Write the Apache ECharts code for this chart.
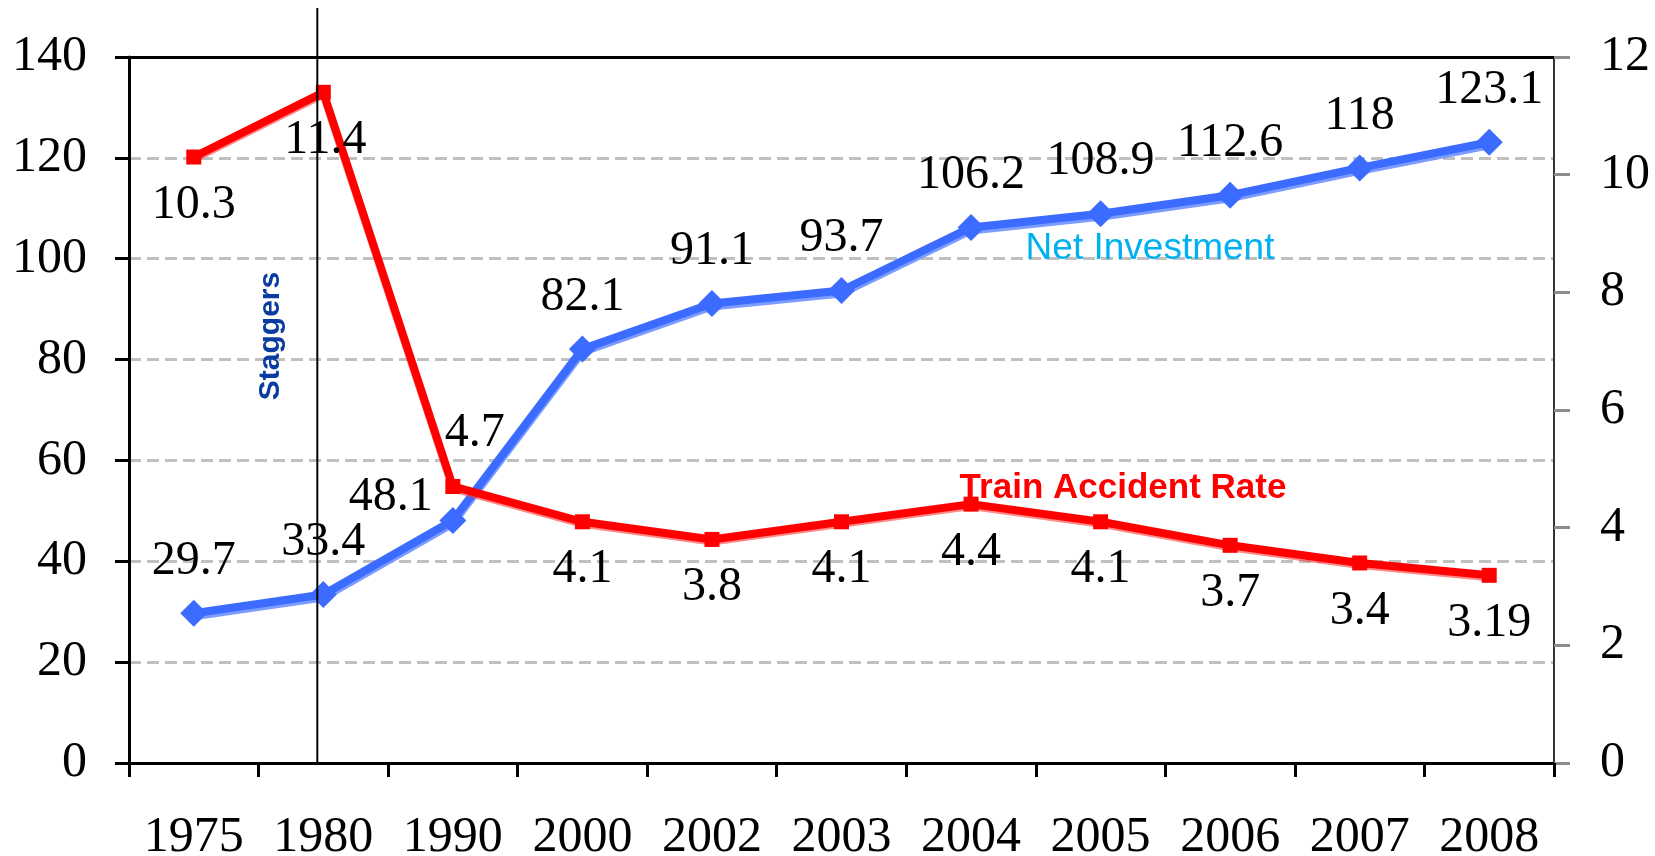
<!DOCTYPE html>
<html>
<head>
<meta charset="utf-8">
<title>Net Investment vs Train Accident Rate</title>
<script src="https://cdn.jsdelivr.net/npm/echarts@6/dist/echarts.min.js"></script>
<style>
  html, body { margin: 0; padding: 0; background: #fff; }
  #main { width: 1655px; height: 856px; }
</style>
</head>
<body>
<div id="main"></div>
<script>
// 数据
var years = ['1975', '1980', '1990', '2000', '2002', '2003', '2004', '2005', '2006', '2007', '2008'];
var netInvestment = [29.7, 33.4, 48.1, 82.1, 91.1, 93.7, 106.2, 108.9, 112.6, 118, 123.1];
var accidentRate = [10.3, 11.4, 4.7, 4.1, 3.8, 4.1, 4.4, 4.1, 3.7, 3.4, 3.19];
var leftTicks = [0, 140, 20];   // min, max, interval
var rightTicks = [0, 12, 2];

// 标签位置（样式，不是数据）
var blueLabelShift = { 2: [-62, -23] };
var redLabelShift = { 1: [2, 48], 2: [22, -53] };

var serif = 'Liberation Serif';
var blue = '#3b6bff';
var red = '#ff0000';

var myChart = echarts.init(document.getElementById('main'));

function buildData(values, shifts, defShift) {
    return values.map(function (v, i) {
        return { value: v, label: { offset: shifts[i] || defShift } };
    });
}

var labelBase = {
    show: true,
    position: 'inside',
    fontFamily: serif,
    fontSize: 48,
    lineHeight: 48,
    color: '#000'
};

var option = {
    backgroundColor: '#fff',
    animation: false,
    grid: { left: 129, right: 101, top: 57, bottom: 93, outerBoundsMode: 'none' },
    xAxis: [{
        type: 'category',
        data: years,
        boundaryGap: true,
        axisLine: { show: true, lineStyle: { color: '#000', width: 3 } },
        axisTick: { show: true, interval: 0, length: 14, lineStyle: { color: '#000', width: 3 } },
        axisLabel: { interval: 0, fontFamily: serif, fontSize: 50, lineHeight: 50, color: '#000', margin: 50 },
        splitLine: { show: false }
    }, {
        type: 'category',
        position: 'top',
        data: years,
        axisLine: { show: true, onZero: false, lineStyle: { color: '#000', width: 3 } },
        axisTick: { show: false },
        axisLabel: { show: false },
        splitLine: { show: false }
    }],
    yAxis: [{
        type: 'value',
        min: leftTicks[0],
        max: leftTicks[1],
        interval: leftTicks[2],
        axisLine: { show: true, lineStyle: { color: '#000', width: 3 } },
        axisTick: { show: true, length: 14, lineStyle: { color: '#000', width: 3 } },
        axisLabel: { fontFamily: serif, fontSize: 50, color: '#000', margin: 42 },
        splitLine: { show: true, lineStyle: { color: '#c0c0c0', width: 3, type: [12, 6] } }
    }, {
        type: 'value',
        position: 'right',
        min: rightTicks[0],
        max: rightTicks[1],
        interval: rightTicks[2],
        axisLine: { show: true, lineStyle: { color: '#333', width: 2 } },
        axisTick: { show: true, length: 16, lineStyle: { color: '#8c8c8c', width: 3 } },
        axisLabel: { fontFamily: serif, fontSize: 50, color: '#000', margin: 46 },
        splitLine: { show: false }
    }],
    series: [{
        name: 'Net Investment',
        type: 'line',
        yAxisIndex: 0,
        data: buildData(netInvestment, blueLabelShift, [0, -52]),
        symbol: 'diamond',
        symbolSize: 27,
        itemStyle: { color: blue },
        lineStyle: { color: blue, width: 8, shadowColor: 'rgba(110,145,255,0.9)', shadowOffsetY: 3 },
        label: labelBase,
        z: 3
    }, {
        name: 'Train Accident Rate',
        type: 'line',
        yAxisIndex: 1,
        data: buildData(accidentRate, redLabelShift, [0, 48]),
        symbol: 'rect',
        symbolSize: 15,
        itemStyle: { color: red },
        lineStyle: { color: red, width: 8, shadowColor: 'rgba(255,60,60,0.6)', shadowOffsetY: 2 },
        label: labelBase,
        z: 4
    }]
};

myChart.setOption(option);

// Staggers 竖线和文字标注
var lineX = myChart.convertToPixel({ xAxisIndex: 0 }, '1980') - 6;
var bottomY = myChart.convertToPixel({ yAxisIndex: 0 }, 0);

myChart.setOption({
    graphic: [{
        type: 'line',
        shape: { x1: lineX, y1: 8, x2: lineX, y2: bottomY },
        style: { stroke: '#000', lineWidth: 2 },
        z: 10
    }, {
        type: 'text',
        x: lineX - 47,
        y: 336,
        rotation: Math.PI / 2,
        style: {
            text: 'Staggers',
            fontFamily: 'Liberation Sans',
            fontWeight: 'bold',
            fontSize: 30,
            fill: '#0a3ca0',
            align: 'center',
            verticalAlign: 'middle'
        },
        z: 10
    }, {
        type: 'text',
        x: 1150,
        y: 249,
        style: {
            text: 'Net Investment',
            fontFamily: 'Liberation Sans',
            fontSize: 37,
            fill: '#00b0f0',
            align: 'center',
            verticalAlign: 'middle'
        },
        z: 10
    }, {
        type: 'text',
        x: 1123,
        y: 488,
        style: {
            text: 'Train Accident Rate',
            fontFamily: 'Liberation Sans',
            fontWeight: 'bold',
            fontSize: 35,
            fill: red,
            align: 'center',
            verticalAlign: 'middle'
        },
        z: 10
    }]
});
</script>
</body>
</html>
